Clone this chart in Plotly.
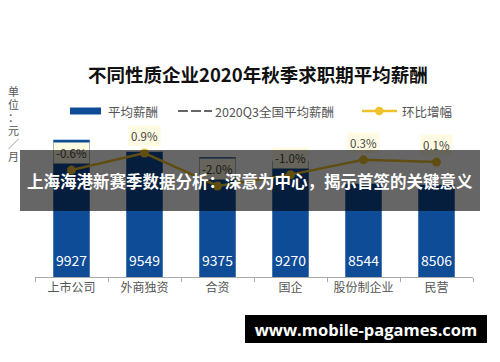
import plotly.graph_objects as go

categories = ["上市公司", "外商独资", "合资", "国企", "股份制企业", "民营"]
avg_salary = [9927, 9549, 9375, 9270, 8544, 8506]
mom_change = [-0.6, 0.9, -2.0, -1.0, 0.3, 0.1]
mom_labels = ["-0.6%", "0.9%", "-2.0%", "-1.0%", "0.3%", "0.1%"]

title_text = "不同性质企业2020年秋季求职期平均薪酬"
unit_chars = ["单", "位", "：", "元", "／", "月"]
legend_names = ["平均薪酬", "2020Q3全国平均薪酬", "环比增幅"]
overlay_text = "上海海港新赛季数据分析：深意为中心，揭示首签的关键意义"
watermark_text = "www.mobile-pagames.com"

BAR = "#0E4C98"
LINE = "#EFC12B"
LBL_BG = "#FFFBE3"
GRAY = "#555555"
FONT = "Noto Sans CJK SC"

W, H = 500, 362
L, R, T, B = 35, 27, 95, 85
PW = W - L - R
PH = H - T - B


def X(px):
    return (px - L) / PW


def Y(py):
    return (H - B - py) / PH


fig = go.Figure()
fig.add_trace(go.Bar(
    x=categories, y=avg_salary, marker=dict(color=BAR, line=dict(width=0)),
    showlegend=False, hoverinfo="skip",
))
fig.add_trace(go.Scatter(
    x=categories, y=mom_change, yaxis="y2", mode="lines+markers",
    line=dict(color=LINE, width=2.5), marker=dict(color=LINE, size=9),
    showlegend=False, hoverinfo="skip",
))

annotations = []
for c, v in zip(categories, avg_salary):
    annotations.append(dict(
        x=c, y=5600, xref="x", yref="y", yanchor="middle", yshift=17,
        text=str(v), showarrow=False,
        font=dict(family=FONT, size=14, color="white"),
    ))
for c, v, t in zip(categories, mom_change, mom_labels):
    annotations.append(dict(
        x=c, y=v, xref="x", yref="y2", yanchor="middle", yshift=17,
        text=t, showarrow=False, bgcolor=LBL_BG, borderpad=2,
        font=dict(family=FONT, size=11.5, color="#444444"),
    ))
for i, ch in enumerate(unit_chars):
    annotations.append(dict(
        x=X(13), y=Y(91 + i * 13), xref="paper", yref="paper",
        xanchor="center", yanchor="middle", text=ch, showarrow=False,
        height=12, borderpad=0,
        font=dict(family=FONT, size=11, color=GRAY),
    ))
for name, px in zip(legend_names, [106, 213, 400]):
    annotations.append(dict(
        x=X(px), y=Y(111), xref="paper", yref="paper",
        xanchor="left", yanchor="middle", text=name, showarrow=False,
        font=dict(family=FONT, size=12.5, color=GRAY),
    ))
annotations.append(dict(
    x=X(258), y=Y(74), xref="paper", yref="paper", xanchor="center",
    yanchor="middle", text="<b>" + title_text + "</b>", showarrow=False,
    font=dict(family=FONT, size=18.5, color="#111111"),
))
annotations.append(dict(
    x=X(250), y=Y(180.5), xref="paper", yref="paper", xanchor="center",
    yanchor="middle", text="<b>" + overlay_text + "</b>", showarrow=False,
    width=460, height=61, borderpad=0, borderwidth=0,
    bgcolor="rgba(0,0,0,0.6)",
    font=dict(family=FONT, size=16.5, color="white"),
))
annotations.append(dict(
    x=X(366), y=Y(329), xref="paper", yref="paper", xanchor="center",
    yanchor="middle", text="<b>" + watermark_text + "</b>", showarrow=False,
    width=242, height=28, borderpad=0, borderwidth=0, bgcolor="black",
    font=dict(family="Open Sans", size=16.5, color="white"),
))

shapes = [
    dict(type="rect", xref="paper", yref="paper", x0=X(70), x1=X(101),
         y0=Y(114.5), y1=Y(107.5), fillcolor=BAR, line=dict(width=0)),
    dict(type="line", xref="paper", yref="paper", x0=X(178), x1=X(212),
         y0=Y(111), y1=Y(111), line=dict(color="#666666", width=2, dash="10px,3px")),
    dict(type="line", xref="paper", yref="paper", x0=X(362), x1=X(397),
         y0=Y(111), y1=Y(111), line=dict(color=LINE, width=2.5)),
    dict(type="circle", xref="paper", yref="paper", x0=X(375), x1=X(383.5),
         y0=Y(115.2), y1=Y(106.8), fillcolor=LINE, line=dict(width=0)),
]

fig.update_layout(
    width=W, height=H, margin=dict(l=L, r=R, t=T, b=B),
    paper_bgcolor="white", plot_bgcolor="white",
    bargap=0.5, showlegend=False,
    font=dict(family=FONT, color=GRAY),
    xaxis=dict(
        showline=True, linecolor="#AAAAAA", linewidth=1,
        ticks="outside", tickson="boundaries", ticklen=4, tickcolor="#AAAAAA",
        tickfont=dict(family=FONT, size=12, color=GRAY), showgrid=False,
    ),
    yaxis=dict(range=[5600, 11340], visible=False, showgrid=False, zeroline=False),
    yaxis2=dict(range=[-10, 6], overlaying="y", visible=False, showgrid=False,
                zeroline=False),
    annotations=annotations, shapes=shapes,
)

fig.write_html("out.html", config={"displayModeBar": False},
               post_script="document.body.style.margin='0';")
